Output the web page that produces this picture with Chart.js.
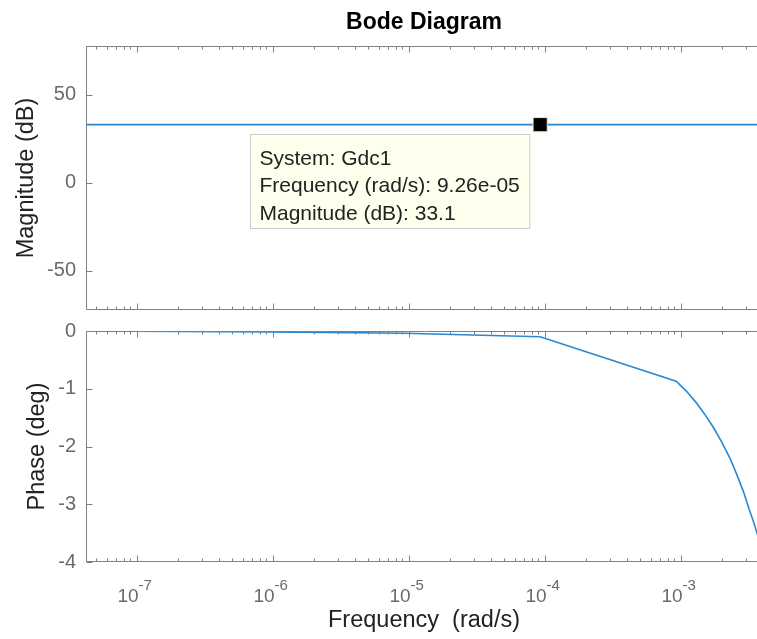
<!DOCTYPE html>
<html>
<head>
<meta charset="utf-8">
<script src="https://cdn.jsdelivr.net/npm/chart.js@4.4.0/dist/chart.umd.min.js"></script>
<style>
  html, body { margin: 0; padding: 0; background: #fff; }
  #wrap { position: relative; width: 757px; height: 639px; overflow: hidden; }
  #c1 { position: absolute; left: 0; top: 0; }
  #c2 { position: absolute; left: 0; top: 320px; }
</style>
</head>
<body>
<div id="wrap">
  <canvas id="c1" width="848" height="320"></canvas>
  <canvas id="c2" width="848" height="319"></canvas>
</div>
<script>
var FONT = "'Liberation Sans', Arial, Helvetica, sans-serif";
var AXIS_COLOR = '#808080';
var TICK_COLOR = '#6a6a6a';
var LABEL_COLOR = '#222222';
var LINE_COLOR = '#2a88d0';

var chartTitle = 'Bode Diagram';

// visible frequency range (rad/s)
var freqMin = 4.24e-8;
var freqMax = 3.96e-3;

// magnitude (dB)
var magFreq = [4.24e-8, 3.96e-3];
var magnitude = [33.1, 33.1];

// phase (deg)
var phaseFreq = [4.24e-8, 9.26e-7, 9.26e-6, 9.26e-5, 9.26e-4, 1.1e-3, 1.3e-3, 1.5e-3, 1.75e-3,
                 2.0e-3, 2.3e-3, 2.6e-3, 2.9e-3, 3.2e-3, 3.45e-3, 3.64e-3, 3.96e-3];
var phase = [0, -0.015, -0.04, -0.1, -0.87, -1.04, -1.24, -1.44, -1.68,
             -1.92, -2.2, -2.5, -2.79, -3.1, -3.32, -3.5, -3.8];

// data tip
var tipFreq = 9.26e-5;
var tipMag = 33.1;
var tipLines = ['System: Gdc1', 'Frequency (rad/s): 9.26e-05', 'Magnitude (dB): 33.1'];

// ticks
var magTicks = [-50, 0, 50];
var phaseTicks = [-4, -3, -2, -1, 0];
var decades = [-7, -6, -5, -4, -3];

function toPoints(xs, ys) {
  return xs.map(function (x, i) { return { x: x, y: ys[i] }; });
}

// box, inner ticks (log minor ticks too), optional 10^n labels and title
function framePlugin(showXLabels, title) {
  return {
    id: 'frame',
    afterDraw: function (chart) {
      var ctx = chart.ctx, a = chart.chartArea;
      var xs = chart.scales.x, ys = chart.scales.y;
      var L = Math.round(a.left) + 0.5, T = Math.round(a.top) + 0.5, B = Math.round(a.bottom) - 0.5;
      ctx.save();
      ctx.strokeStyle = AXIS_COLOR;
      ctx.lineWidth = 1;
      ctx.beginPath();
      ctx.moveTo(L, T); ctx.lineTo(a.right, T);
      ctx.moveTo(L, T); ctx.lineTo(L, B);
      ctx.moveTo(L, B); ctx.lineTo(a.right, B);
      for (var n = -8; n <= -3; n++) {
        for (var m = 1; m <= 9; m++) {
          var v = m * Math.pow(10, n);
          if (v < xs.min || v > xs.max) continue;
          var px = Math.round(xs.getPixelForValue(v)) + 0.5;
          var len = m === 1 ? 6 : 3;
          ctx.moveTo(px, T); ctx.lineTo(px, T + len);
          ctx.moveTo(px, B); ctx.lineTo(px, B - len);
        }
      }
      ys.ticks.forEach(function (t) {
        var py = Math.round(ys.getPixelForValue(t.value)) + 0.5;
        ctx.moveTo(L, py); ctx.lineTo(L + 6, py);
      });
      ctx.stroke();

      if (showXLabels) {
        ctx.fillStyle = TICK_COLOR;
        ctx.textAlign = 'left';
        ctx.textBaseline = 'alphabetic';
        decades.forEach(function (d) {
          var px = xs.getPixelForValue(Math.pow(10, d));
          ctx.font = '19px ' + FONT;
          var w1 = ctx.measureText('10').width;
          ctx.font = '15px ' + FONT;
          var w2 = ctx.measureText(String(d)).width;
          var x0 = px - (w1 + w2) / 2 - 2;
          ctx.font = '19px ' + FONT;
          ctx.fillText('10', x0, a.bottom + 40);
          ctx.font = '15px ' + FONT;
          ctx.fillText(String(d), x0 + w1, a.bottom + 28);
        });
      }
      if (title) {
        ctx.fillStyle = '#000000';
        ctx.font = 'bold 23px ' + FONT;
        ctx.textAlign = 'center';
        ctx.textBaseline = 'alphabetic';
        ctx.fillText(title, (a.left + a.right) / 2, a.top - 17.5);
      }
      ctx.restore();
    }
  };
}

var tipPlugin = {
  id: 'datatip',
  afterDraw: function (chart) {
    var ctx = chart.ctx;
    var mx = chart.scales.x.getPixelForValue(tipFreq);
    var my = chart.scales.y.getPixelForValue(tipMag);
    ctx.save();
    ctx.font = '21px ' + FONT;
    var w = Math.max.apply(null, tipLines.map(function (s) { return ctx.measureText(s).width; })) + 19;
    var h = 94;
    var x = Math.round(mx - 11 - w) + 0.5, y = Math.round(my + 9) + 0.5;
    ctx.fillStyle = '#ffffed';
    ctx.fillRect(x, y, w, h);
    ctx.strokeStyle = '#cccccc';
    ctx.lineWidth = 1;
    ctx.strokeRect(x, y, w, h);
    ctx.fillStyle = LABEL_COLOR;
    ctx.textAlign = 'left';
    ctx.textBaseline = 'alphabetic';
    tipLines.forEach(function (s, i) { ctx.fillText(s, x + 9, y + 30 + i * 27.5); });
    ctx.restore();
  }
};

function yAxis(min, max, ticks, title, titlePad) {
  return {
    min: min, max: max,
    afterBuildTicks: function (s) { s.ticks = ticks.map(function (v) { return { value: v }; }); },
    afterFit: function (s) { s.width = 86; s.paddingTop = 0; s.paddingBottom = 0; },
    grid: { display: false, drawTicks: false },
    border: { display: false },
    ticks: { color: TICK_COLOR, font: { family: FONT, size: 20 }, padding: 10,
             callback: function (v) { return String(v); } },
    title: { display: true, text: title, color: LABEL_COLOR, font: { family: FONT, size: 23.5 },
             padding: { top: titlePad, bottom: 0 } }
  };
}

// magnitude
new Chart(document.getElementById('c1'), {
  type: 'scatter',
  data: {
    datasets: [
      { data: toPoints(magFreq, magnitude), showLine: true, borderColor: LINE_COLOR,
        borderWidth: 1.6, pointRadius: 0, order: 2 },
      { data: [{ x: tipFreq, y: tipMag }], pointStyle: 'rect', pointRadius: 10,
        backgroundColor: '#000000', borderColor: '#e8e8c4', borderWidth: 1, order: 1 }
    ]
  },
  options: {
    responsive: false,
    animation: false,
    layout: { padding: { top: 46, right: 86, bottom: 10, left: 0 }, autoPadding: false },
    plugins: { legend: { display: false }, tooltip: { enabled: false } },
    scales: {
      x: { type: 'logarithmic', min: freqMin, max: freqMax,
           grid: { display: false, drawTicks: false }, border: { display: false }, ticks: { display: false },
           afterFit: function (s) { s.height = 0; } },
      y: yAxis(-72.2, 77.8, magTicks, 'Magnitude (dB)', 12)
    }
  },
  plugins: [framePlugin(false, chartTitle), tipPlugin]
});

// phase
new Chart(document.getElementById('c2'), {
  type: 'scatter',
  data: {
    datasets: [
      { data: toPoints(phaseFreq, phase), showLine: true, borderColor: LINE_COLOR,
        borderWidth: 1.6, pointRadius: 0 }
    ]
  },
  options: {
    responsive: false,
    animation: false,
    layout: { padding: { top: 11, right: 86, bottom: 0, left: 0 }, autoPadding: false },
    plugins: { legend: { display: false }, tooltip: { enabled: false } },
    scales: {
      x: { type: 'logarithmic', min: freqMin, max: freqMax,
           grid: { display: false, drawTicks: false }, border: { display: false }, ticks: { display: false },
           title: { display: true, text: 'Frequency  (rad/s)', color: LABEL_COLOR,
                    font: { family: FONT, size: 23.5 }, padding: { top: 0, bottom: 3.9 } },
           afterFit: function (s) { s.height = 77; } },
      y: yAxis(-4, 0, phaseTicks, 'Phase (deg)', 23)
    }
  },
  plugins: [framePlugin(true, null)]
});
</script>
</body>
</html>
